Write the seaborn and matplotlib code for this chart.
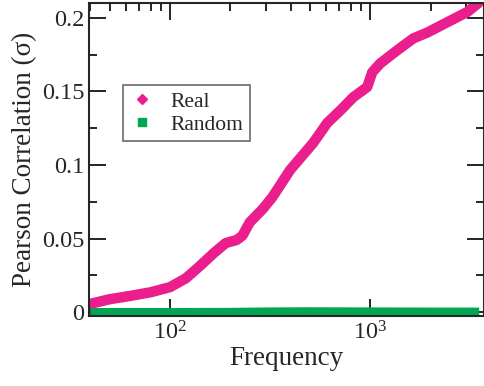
import numpy as np
import pandas as pd
import matplotlib
matplotlib.use("Agg")
import matplotlib.pyplot as plt
import seaborn as sns
from matplotlib.ticker import LogLocator, MultipleLocator, NullFormatter

# data
real_freq = [41, 50, 63, 80, 100, 120, 140, 165, 190, 215, 230, 250, 290, 324,
             398, 519, 610, 708, 822, 966, 1023, 1122, 1365, 1641, 1928, 2427,
             3055, 3467]
real_corr = [0.006, 0.0088, 0.011, 0.0135, 0.017, 0.023, 0.031, 0.040, 0.047,
             0.049, 0.052, 0.061, 0.070, 0.078, 0.0966, 0.115, 0.1286, 0.137,
             0.146, 0.153, 0.163, 0.169, 0.178, 0.186, 0.190, 0.197, 0.204, 0.210]

rand_freq = [40, 60, 100, 200, 320, 500, 1000, 2000, 3500]
rand_corr = [0.0, 0.0, 0.0, 0.0001, 0.0004, 0.0005, 0.0004, 0.0003, 0.0003]

real_color = "#ea1e8d"
rand_color = "#00a651"

df_real = pd.DataFrame({"Frequency": real_freq, "Corr": real_corr})
df_rand = pd.DataFrame({"Frequency": rand_freq, "Corr": rand_corr})

sns.set_style("ticks")
plt.rcParams["font.family"] = ["Liberation Serif", "DejaVu Serif"]

fig = plt.figure(figsize=(4.85, 3.86), dpi=100)
ax = fig.add_axes([0.1835, 0.181, 0.8145, 0.811])

sns.lineplot(data=df_rand, x="Frequency", y="Corr", color=rand_color,
             linewidth=6, solid_capstyle="butt", ax=ax, legend=False)
sns.lineplot(data=df_real, x="Frequency", y="Corr", color=real_color,
             linewidth=7.5, solid_capstyle="round", ax=ax, legend=False)

ax.set_xscale("log")
ax.set_xlim(39.4, 3700)
ax.set_ylim(-0.0027, 0.210)

ax.xaxis.set_major_locator(LogLocator(base=10))
ax.xaxis.set_minor_locator(LogLocator(base=10, subs=np.arange(2, 10)))
ax.xaxis.set_minor_formatter(NullFormatter())
ax.yaxis.set_minor_locator(MultipleLocator(0.025))
ax.set_yticks([0, 0.05, 0.1, 0.15, 0.2])
ax.set_yticklabels(["0", "0.05", "0.1", "0.15", "0.2"])

ax.tick_params(which="both", direction="in", top=True, right=True,
               labelsize=17.5, width=1.2, color="black")
ax.tick_params(which="major", length=12)
ax.tick_params(which="minor", length=6)
for s in ax.spines.values():
    s.set_linewidth(1.5)

ax.set_xlabel("Frequency", fontsize=19.5, labelpad=1)
ax.set_ylabel("Pearson Correlation (σ)", fontsize=19.5, labelpad=3)

h_real = plt.Line2D([], [], linestyle="none", marker="D", markersize=5,
                    color=real_color, label="Real")
h_rand = plt.Line2D([], [], linestyle="none", marker="s", markersize=5.5,
                    color=rand_color, label="Random")
leg = ax.legend(handles=[h_real, h_rand], loc="upper left",
                bbox_to_anchor=(0.086, 0.738), borderaxespad=0, fontsize=15.5,
                frameon=True, fancybox=False, edgecolor="#444444",
                handletextpad=0.7, borderpad=0.3, labelspacing=0.15,
                handlelength=1.2)
leg.get_frame().set_linewidth(1.2)

fig.savefig("out.png", dpi=100)
